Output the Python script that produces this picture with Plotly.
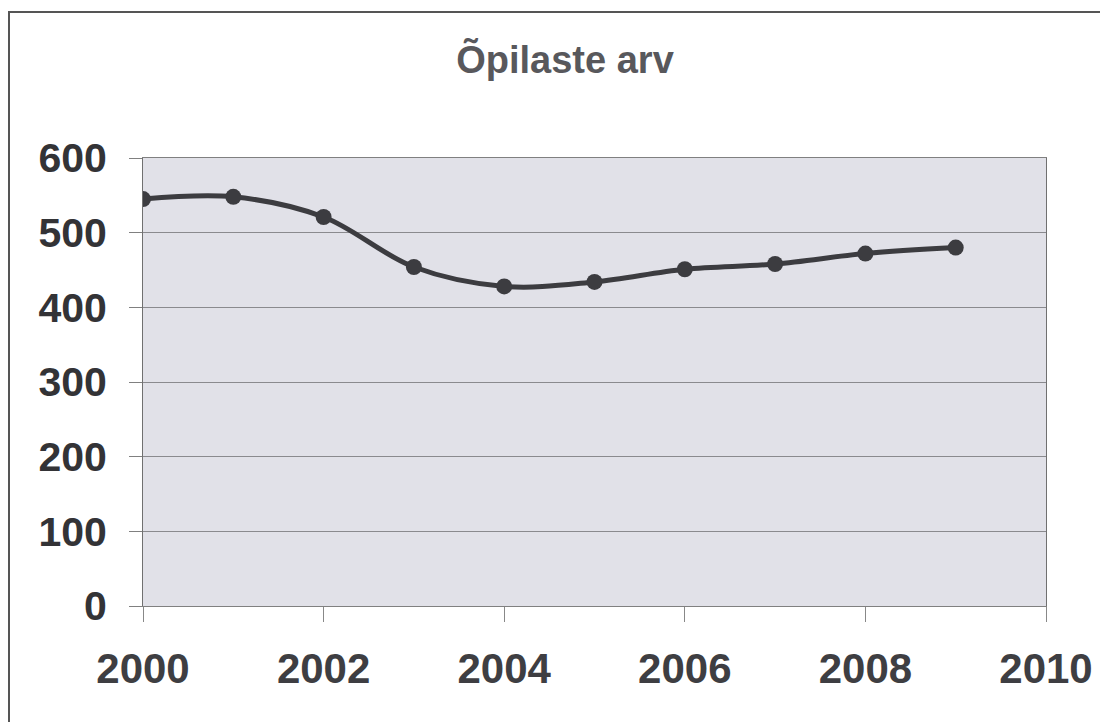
import plotly.graph_objects as go

years = [2000, 2001, 2002, 2003, 2004, 2005, 2006, 2007, 2008, 2009]
students = [545, 548, 521, 454, 428, 434, 451, 458, 472, 480]
x_ticks = [2000, 2002, 2004, 2006, 2008, 2010]
y_ticks = [0, 100, 200, 300, 400, 500, 600]
title_text = "Õpilaste arv"

fig = go.Figure()
fig.add_trace(go.Scatter(
    x=years, y=students, mode="lines+markers",
    line=dict(color="#3c3c40", width=5, shape="spline", smoothing=1.0),
    marker=dict(color="#3c3c40", size=16),
    showlegend=False,
))

font_family = "Liberation Sans, Arial, sans-serif"
W, H = 1100, 714
L, R, T, B = 135, 62, 150, 116
fig.update_layout(
    width=W, height=H,
    margin=dict(l=L, r=R, t=T, b=B),
    paper_bgcolor="white",
    plot_bgcolor="#e1e1e8",
    title=dict(text="<b>" + title_text + "</b>", x=(565 - 8) / W, xanchor="center",
               y=1 - 52 / H, yanchor="middle",
               font=dict(family=font_family, size=38, color="#58585c")),
    font=dict(family=font_family),
)
fig.update_xaxes(
    range=[2000, 2010], tickvals=x_ticks,
    ticktext=["<b>%d</b>" % v for v in x_ticks],
    tickfont=dict(size=42, color="#3e3e42"),
    ticks="outside", ticklen=15, tickcolor="#888888", tickwidth=1,
    showgrid=False, zeroline=False,
    showline=True, linecolor="#808080", linewidth=1, mirror=True,
    ticklabelstandoff=11,
)
fig.update_yaxes(
    range=[0, 600], tickvals=y_ticks,
    ticktext=["<b>%d</b>" % v for v in y_ticks],
    tickfont=dict(size=41, color="#333336"),
    ticks="outside", ticklen=13, tickcolor="#808080", tickwidth=1,
    showgrid=True, gridcolor="#8a8a8e", gridwidth=1,
    zeroline=False,
    showline=True, linecolor="#707070", linewidth=1, mirror=True,
    ticklabelstandoff=14,
)

# outer chart border (figure pixel coordinates converted to paper fractions)
pw, ph = W - L - R, H - T - B
bx0, by0 = 1, 4
fig.add_shape(type="rect", xref="paper", yref="paper",
              x0=(bx0 - L) / pw, x1=(W + 20 - L) / pw,
              y0=-(B + 30) / ph, y1=(H - B - by0) / ph,
              line=dict(color="#555555", width=2), layer="below")

fig.write_html("out.html")
